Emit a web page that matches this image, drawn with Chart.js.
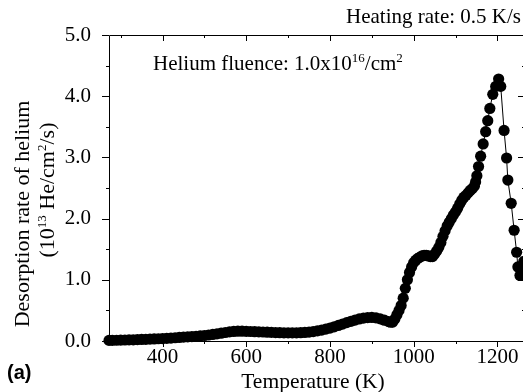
<!DOCTYPE html>
<html>
<head>
<meta charset="utf-8">
<script src="https://cdn.jsdelivr.net/npm/chart.js@4"></script>
<style>
  html, body { margin: 0; padding: 0; background: #fff; overflow: hidden; }
  #wrap { width: 540px; height: 392px; }
</style>
</head>
<body>
<div id="wrap"><canvas id="c" width="540" height="392"></canvas></div>
<script>
// temperature (K) and desorption rate (1e13 He/cm2/s)
const temps = [
  272, 280, 290, 300, 310, 320, 330, 340, 350, 360, 370, 380, 390, 400,
  410, 420, 430, 440, 450, 460, 470, 480, 490, 500, 510, 520, 530, 540,
  550, 560, 570, 580, 590, 600, 610, 620, 630, 640, 650, 660, 670, 680,
  690, 700, 710, 720, 730, 740, 750, 760, 770, 780, 790, 800, 810, 820,
  830, 840, 850, 860, 870, 880, 890, 900, 910, 920, 930, 940, 945, 950,
  955, 960, 965, 970, 975, 980, 985, 990, 995, 1000, 1005, 1010, 1015,
  1020, 1025, 1030, 1035, 1040, 1045, 1050, 1055, 1060, 1065, 1070, 1075,
  1080, 1085, 1090, 1095, 1100, 1105, 1110, 1115, 1120, 1125, 1130, 1135,
  1140, 1145, 1148, 1151, 1155, 1160, 1166, 1172, 1177, 1182, 1189, 1196, 1203,
  1208, 1216, 1222, 1225, 1233, 1240, 1246, 1249, 1254, 1259, 1263
];
const rates = [
  0.010, 0.010, 0.012, 0.014, 0.016, 0.018, 0.020, 0.022, 0.025, 0.028, 0.031, 0.034, 0.037, 0.040,
  0.044, 0.048, 0.053, 0.058, 0.063, 0.068, 0.073, 0.078, 0.084, 0.090, 0.098, 0.107, 0.117, 0.128,
  0.139, 0.149, 0.156, 0.160, 0.160, 0.158, 0.155, 0.152, 0.150, 0.147, 0.144, 0.141, 0.138, 0.136,
  0.134, 0.133, 0.133, 0.134, 0.136, 0.140, 0.146, 0.154, 0.165, 0.178, 0.194, 0.212, 0.232, 0.254,
  0.277, 0.300, 0.322, 0.342, 0.360, 0.374, 0.383, 0.385, 0.378, 0.362, 0.340, 0.318, 0.306, 0.310,
  0.360, 0.430, 0.500, 0.580, 0.700, 0.860, 1.000, 1.120, 1.210, 1.280, 1.320, 1.350, 1.370,
  1.390, 1.400, 1.400, 1.390, 1.380, 1.380, 1.420, 1.470, 1.530, 1.610, 1.710, 1.800,
  1.880, 1.940, 2.000, 2.060, 2.110, 2.170, 2.240, 2.300, 2.350, 2.380, 2.420, 2.460,
  2.490, 2.530, 2.600, 2.700, 2.850, 3.020, 3.220, 3.420, 3.600, 3.800, 4.030, 4.160, 4.280, 4.160,
  3.440, 2.990, 2.630, 2.250, 1.810, 1.450, 1.210, 1.070, 1.120, 1.300, 1.500
];
const xTicks = [300, 400, 500, 600, 700, 800, 900, 1000, 1100, 1200];
const yTicks = [0, 1, 2, 3, 4, 5];
const yMinor = [0.5, 1.5, 2.5, 3.5, 4.5];

const serif = '"Liberation Serif", "DejaVu Serif", serif';

// draws text pieces [text, isSuper] starting at x along baseline
function drawRich(ctx, parts, x, y, size) {
  let cx = x;
  parts.forEach(([t, sup]) => {
    ctx.font = (sup ? Math.round(size * 0.6) : size) + 'px ' + serif;
    ctx.fillText(t, cx, sup ? y - size * 0.38 : y);
    cx += ctx.measureText(t).width;
  });
  return cx - x;
}
function richWidth(ctx, parts, size) {
  let w = 0;
  parts.forEach(([t, sup]) => {
    ctx.font = (sup ? Math.round(size * 0.6) : size) + 'px ' + serif;
    w += ctx.measureText(t).width;
  });
  return w;
}

const frame = {
  id: 'frame',
  beforeDatasetsDraw(chart) {
    const { ctx, chartArea: a, scales: { x, y } } = chart;
    ctx.save();
    ctx.strokeStyle = '#000';
    ctx.lineWidth = 1;
    ctx.beginPath();
    ctx.rect(Math.round(a.left) + 0.5, Math.round(a.top) + 0.5, Math.round(a.right - a.left), Math.round(a.bottom - a.top));
    xTicks.forEach(v => {
      const px = Math.round(x.getPixelForValue(v)) + 0.5;
      const len = v % 200 === 0 ? 6 : 3;
      ctx.moveTo(px, a.bottom); ctx.lineTo(px, a.bottom + len);
      ctx.moveTo(px, a.top); ctx.lineTo(px, a.top + len);
    });
    yTicks.concat(yMinor).forEach(v => {
      const py = Math.round(y.getPixelForValue(v)) + 0.5;
      const len = Number.isInteger(v) ? 7 : 3;
      ctx.moveTo(a.left, py); ctx.lineTo(a.left - len, py);
      ctx.moveTo(a.right, py); ctx.lineTo(a.right - len, py);
    });
    ctx.stroke();
    ctx.restore();
  },
  afterDraw(chart) {
    const { ctx } = chart;
    ctx.save();
    ctx.fillStyle = '#000';
    ctx.textBaseline = 'middle';
    ctx.font = '21px ' + serif;
    ctx.textAlign = 'right';
    ctx.fillText('Heating rate: 0.5 K/s', 521, 17);
    ctx.textAlign = 'center';
    ctx.font = '21.5px ' + serif;
    ctx.fillText('Temperature (K)', 313, 382);
    ctx.textAlign = 'left';
    ctx.font = 'bold 20px "Liberation Sans", Arial, sans-serif';
    ctx.fillText('(a)', 7, 373);

    ctx.textBaseline = 'alphabetic';
    drawRich(ctx, [['Helium fluence: 1.0x10', false], ['16', true], ['/cm', false], ['2', true]], 153, 70, 21);

    // rotated y title, two lines
    const l1 = [['Desorption rate of helium', false]];
    const l2 = [['(10', false], ['13', true], [' He/cm', false], ['2', true], ['/s)', false]];
    [[l1, 29, 214], [l2, 54, 190]].forEach(([parts, bx, cy]) => {
      ctx.save();
      ctx.translate(bx, cy);
      ctx.rotate(-Math.PI / 2);
      const w = richWidth(ctx, parts, 22);
      drawRich(ctx, parts, -w / 2, 0, 22);
      ctx.restore();
    });
    ctx.restore();
  }
};

new Chart(document.getElementById('c'), {
  type: 'line',
  data: {
    labels: temps,
    datasets: [{
      data: temps.map((t, i) => ({ x: t, y: rates[i] })),
      borderColor: '#000',
      borderWidth: 1,
      backgroundColor: '#000',
      pointBackgroundColor: '#000',
      pointBorderWidth: 0,
      pointRadius: 5.6,
      pointStyle: 'circle',
      tension: 0,
      clip: false
    }]
  },
  options: {
    responsive: false,
    animation: false,
    events: [],
    layout: { padding: { top: 35, right: 15, left: 0, bottom: 0 } },
    plugins: { legend: { display: false }, tooltip: { enabled: false } },
    scales: {
      x: {
        type: 'linear', min: 272, max: 1266,
        afterBuildTicks: s => { s.ticks = xTicks.map(v => ({ value: v })); },
        afterFit: s => { s.height = 51; },
        grid: { display: false },
        border: { display: false },
        ticks: {
          color: '#000', padding: -4, maxRotation: 0, autoSkip: false,
          font: { family: serif, size: 21 },
          callback: v => (v % 200 === 0 ? String(v) : '')
        }
      },
      y: {
        min: 0, max: 5,
        afterBuildTicks: s => { s.ticks = yTicks.map(v => ({ value: v })); },
        afterFit: s => { s.width = 109; },
        grid: { display: false },
        border: { display: false },
        ticks: {
          color: '#000', padding: 10,
          font: { family: serif, size: 21 },
          callback: v => v.toFixed(1)
        }
      }
    }
  },
  plugins: [frame]
});
</script>
</body>
</html>
